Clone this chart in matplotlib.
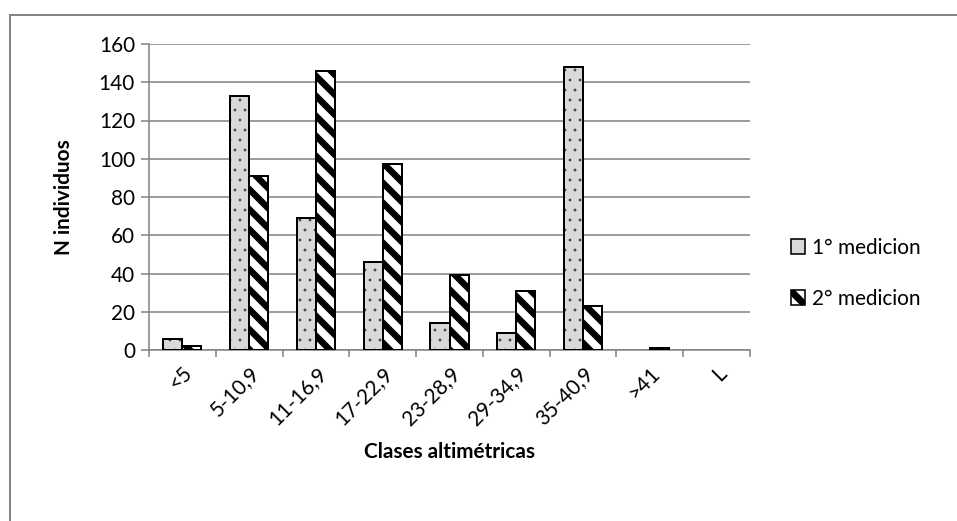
import matplotlib
matplotlib.use("Agg")
import matplotlib.pyplot as plt
import numpy as np
from matplotlib.lines import Line2D
from matplotlib.patches import Patch

plt.rcParams['font.family'] = ['Lato', 'DejaVu Sans']

categories = ["<5", "5-10,9", "11-16,9", "17-22,9", "23-28,9", "29-34,9", "35-40,9", ">41", "L"]
med1 = [6, 133, 69, 46, 14, 9, 148, 0, 0]
med2 = [2, 91, 146, 97, 39, 31, 23, 1, 0]
yticks = [0, 20, 40, 60, 80, 100, 120, 140, 160]

DPI = 120
W, H = 957, 521
def pt(px):
    return px * 72.0 / DPI

fig = plt.figure(figsize=(W / DPI, H / DPI), dpi=DPI)
ax = fig.add_axes([149/W, 1-350/H, (750-149)/W, (350-44)/H])

gray = '#868686'
FS = pt(20.8)
x = np.arange(len(categories))
w = 0.285

plt.rcParams['hatch.linewidth'] = pt(0.8)
plt.rcParams['hatch.color'] = '#404040'
b1 = ax.bar(x - w/2, med1, w, color='#d9d9d9', edgecolor='black', linewidth=pt(2.0),
            hatch='..', zorder=3)
for r, v in zip(b1, med1):
    r._hatch_color = (0.25, 0.25, 0.25, 1)
    if v == 0:
        r.set_linewidth(0)
plt.rcParams['hatch.linewidth'] = pt(6.5)
plt.rcParams['hatch.color'] = 'black'
b2 = ax.bar(x + w/2, med2, w, color='white', edgecolor='black', linewidth=pt(2.0),
            hatch='\\\\', zorder=3)
for r, v in zip(b2, med2):
    if v == 0:
        r.set_linewidth(0)

ax.set_xlim(-0.5, len(categories) - 0.5)
ax.set_ylim(0, 160)
ax.set_yticks(yticks)
ax.set_yticklabels([str(v) for v in yticks], fontsize=FS)
ax.yaxis.grid(True, color=gray, linewidth=pt(1.6), zorder=0)
ax.set_axisbelow(True)
for s in ['top', 'right']:
    ax.spines[s].set_visible(False)
for s in ['left', 'bottom']:
    ax.spines[s].set_color(gray)
    ax.spines[s].set_linewidth(pt(1.6))
ax.tick_params(axis='y', length=pt(8), color=gray, width=pt(1.6), pad=pt(6))
ax.set_xticks(np.arange(-0.5, len(categories), 1.0))
ax.set_xticklabels([])
ax.set_xticks(x, minor=True)
ax.set_xticklabels(categories, minor=True, rotation=45, ha='right', va='top', fontsize=FS,
                   rotation_mode='anchor')
ax.tick_params(axis='x', which='major', length=pt(7), color=gray, width=pt(1.6))
ax.tick_params(axis='x', which='minor', length=0, pad=pt(13))

ax.set_xlabel('Clases altimétricas', fontsize=FS, fontweight='bold', va='center')
ax.xaxis.set_label_coords(0.5, (350 - 452) / 306.0)
ax.set_ylabel('N individuos', fontsize=FS, fontweight='bold', labelpad=pt(25))

plt.rcParams['hatch.linewidth'] = pt(7)
h1 = Patch(facecolor='#d9d9d9', edgecolor='black', linewidth=pt(1.6))
h2 = Patch(facecolor='white', edgecolor='black', linewidth=pt(1.6), hatch='\\\\')
fig.legend([h1, h2], ['1° medicion', '2° medicion'], loc='upper left',
           bbox_to_anchor=(772/W, 1-219/H), frameon=False, fontsize=FS,
           handlelength=0.7, handleheight=0.7, handletextpad=0.3, labelspacing=1.5)

fig.add_artist(Line2D([10/W, 1.0], [1-15/H, 1-15/H], color=gray, linewidth=pt(2)))
fig.add_artist(Line2D([10/W, 10/W], [0, 1-15/H], color=gray, linewidth=pt(2)))

fig.savefig('out.png', dpi=DPI)
